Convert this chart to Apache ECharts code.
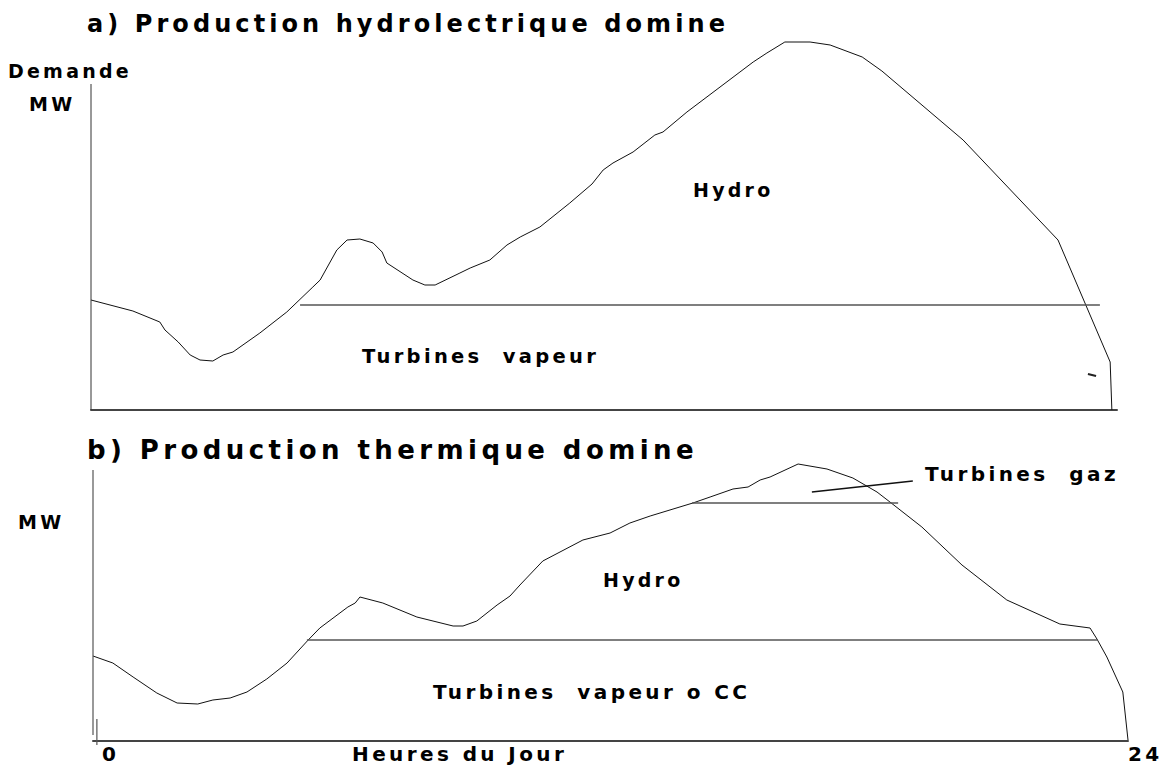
<!DOCTYPE html>
<html>
<head>
<meta charset="utf-8">
<script src="https://cdn.jsdelivr.net/npm/echarts@6/dist/echarts.min.js"></script>
<style>
  html, body { margin: 0; padding: 0; background: #fff; }
  #chart { width: 1163px; height: 766px; }
  #chart text { letter-spacing: 0.17em; }
</style>
</head>
<body>
<div id="chart"></div>
<script>
// ---- Panel a) : hydro dominant (hours 0..24, MW in arbitrary units)
const hoursA = [0, 0.98, 1.61, 1.73, 2.04, 2.32, 2.55, 2.85, 3.09, 3.32, 3.95, 4.58, 5.19, 5.36, 5.75, 5.99, 6.29, 6.60, 6.81, 6.92, 7.53, 7.81, 8.05, 8.63, 8.87, 9.33, 9.73, 10.04, 10.50, 11.20, 11.72, 11.98, 12.21, 12.68, 13.19, 13.38, 13.94, 15.18, 15.49, 15.81, 16.23, 16.82, 17.29, 18.04, 18.50, 20.40, 22.62, 23.84, 23.88];
const demandA = [110, 99, 88, 80, 68, 55, 50, 49, 55, 58, 77, 98, 123, 130, 160, 170, 171, 167, 158, 147, 130, 125, 125, 137, 142, 150, 165, 173, 183, 207, 226, 240, 247, 258, 275, 278, 298, 338, 348, 357, 368, 368, 365, 353, 339, 270, 170, 48, 0];
const steamHoursA = [4.89, 23.60];
const steamLevelA = 105;
const axisTopA = 326;
const strayMarkA = [[23.32, 36], [23.51, 34]];

// ---- Panel b) : thermal dominant
const hoursB = [0, 0.46, 0.93, 1.48, 1.95, 2.43, 2.78, 3.18, 3.57, 4.03, 4.50, 4.99, 5.26, 5.91, 6.08, 6.19, 6.72, 7.51, 8.35, 8.58, 8.90, 9.37, 9.67, 9.90, 10.43, 11.36, 11.99, 12.45, 12.92, 13.91, 14.31, 14.84, 15.19, 15.47, 15.70, 16.35, 17.02, 17.62, 18.18, 18.48, 19.22, 20.15, 21.19, 22.42, 23.12, 23.28, 23.51, 23.88, 24.00];
const demandB = [85, 78, 64, 48, 38, 37, 41, 43, 49, 62, 78, 101, 113, 134, 138, 144, 138, 124, 115, 115, 120, 136, 145, 156, 180, 201, 208, 218, 225, 238, 244, 252, 254, 261, 264, 277, 272, 263, 249, 239, 214, 176, 141, 117, 113, 102, 84, 49, 1];
const steamHoursB = [4.96, 23.28];
const steamLevelB = 101;
const gasHoursB = [13.89, 18.67];
const gasLevelB = 238;
const gasPointerB = [[16.67, 249], [19.01, 260]];
const axisSpanB = [6, 271];
const axisStubB = [[0.09, 22], [0.09, -4]];

// ---- Texts
const titleA = 'a) Production hydrolectrique domine';
const titleB = 'b) Production thermique domine';
const labelDemande = 'Demande';
const labelMW = 'MW';
const labelHydro = 'Hydro';
const labelSteamA = 'Turbines  vapeur';
const labelSteamB = 'Turbines  vapeur o CC';
const labelGas = 'Turbines  gaz';
const labelXAxis = 'Heures du Jour';
const tickLabels = ['0', '24'];

const zip = (xs, ys) => xs.map((x, i) => [x, ys[i]]);

const chart = echarts.init(document.getElementById('chart'), null, { renderer: 'svg' });

const FONT = '"DejaVu Sans", "Liberation Sans", sans-serif';
const txt = (x, y, text, size) => ({
  type: 'text', x: x, y: y, silent: true,
  style: { text: text, fill: '#000', font: 'bold ' + size + 'px ' + FONT, textVerticalAlign: 'middle', verticalAlign: 'middle' }
});

const lineSeries = (xi, data, color, width) => ({
  type: 'line', xAxisIndex: xi, yAxisIndex: xi, data: data,
  showSymbol: false, symbol: 'none', clip: false, silent: true,
  lineStyle: { color: color, width: width }, animation: false
});

const axisCommon = {
  type: 'value', min: 0, max: 24,
  axisTick: { show: false }, axisLabel: { show: false }, splitLine: { show: false },
  axisLine: { show: true, onZero: false, lineStyle: { color: '#444', width: 2 } }
};
const yCommon = {
  type: 'value', min: 0,
  axisTick: { show: false }, axisLabel: { show: false }, splitLine: { show: false },
  axisLine: { show: false }
};

chart.setOption({
  animation: false,
  backgroundColor: '#fff',
  grid: [
    { left: 91, top: 40, width: 1026, height: 370 },
    { left: 93, top: 461, width: 1035, height: 280 }
  ],
  xAxis: [
    Object.assign({ gridIndex: 0 }, axisCommon),
    Object.assign({ gridIndex: 1 }, axisCommon)
  ],
  yAxis: [
    Object.assign({ gridIndex: 0, max: 370 }, yCommon),
    Object.assign({ gridIndex: 1, max: 280 }, yCommon)
  ],
  series: [
    lineSeries(0, zip(hoursA, demandA), '#111', 1),
    lineSeries(0, steamHoursA.map(h => [h, steamLevelA]), '#555', 1.5),
    lineSeries(0, [[0, 0], [0, axisTopA]], '#333', 1),
    lineSeries(0, strayMarkA, '#222', 2),
    lineSeries(1, zip(hoursB, demandB), '#111', 1),
    lineSeries(1, steamHoursB.map(h => [h, steamLevelB]), '#555', 1.5),
    lineSeries(1, gasHoursB.map(h => [h, gasLevelB]), '#555', 1.5),
    lineSeries(1, gasPointerB, '#111', 1.5),
    lineSeries(1, axisSpanB.map(v => [0, v]), '#555', 1.2),
    lineSeries(1, axisStubB, '#555', 1.2)
  ],
  graphic: [
    txt(87, 24, titleA, 24),
    txt(8, 71, labelDemande, 19),
    txt(29, 104, labelMW, 19),
    txt(693, 190, labelHydro, 19),
    txt(362, 356, labelSteamA, 19.5),
    txt(87, 450, titleB, 26),
    txt(18, 522, labelMW, 19),
    txt(925, 474, labelGas, 20),
    txt(603, 580, labelHydro, 19),
    txt(433, 692, labelSteamB, 20),
    txt(102, 754, tickLabels[0], 20),
    txt(352, 754, labelXAxis, 20),
    txt(1128, 754, tickLabels[1], 20)
  ]
});
</script>
</body>
</html>
